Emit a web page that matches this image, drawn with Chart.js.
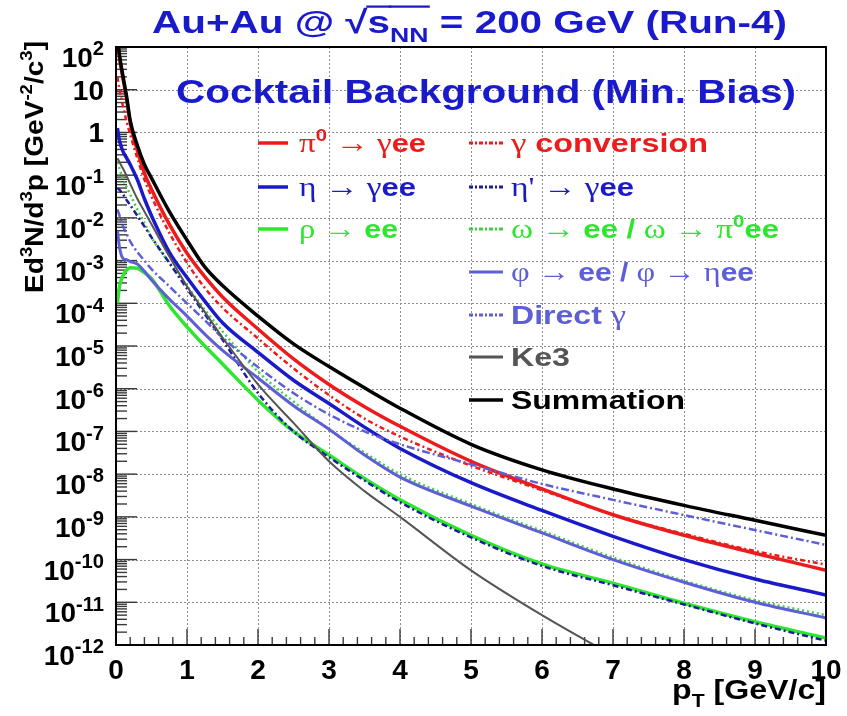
<!DOCTYPE html>
<html><head><meta charset="utf-8">
<script src="https://cdn.jsdelivr.net/npm/chart.js@4.4.1/dist/chart.umd.min.js"></script>
<style>html,body{margin:0;padding:0;background:#fff;}#wrap{width:847px;height:716px;}</style>
</head><body><div id="wrap"><canvas id="c" width="847" height="716"></canvas></div>
<script>
// ---------------- data ----------------
const PT = [0.02,0.05,0.1,0.15,0.2,0.3,0.4,0.5,0.75,1,1.25,1.5,2,2.5,3,3.5,4,5,6,7,8,9,10];
const PI0_GEE      = [158,56,17.8,6.0,1.66,0.38,0.112,0.0468,7.1e-3,1.48e-3,4.2e-4,1.41e-4,2.5e-5,5.0e-6,1.26e-6,3.8e-7,1.32e-7,2.0e-8,4.5e-9,1.12e-9,3.7e-10,1.41e-10,5.6e-11];
const ETA_GEE      = [1.26,0.63,0.355,0.25,0.178,0.079,0.028,0.0112,1.58e-3,4.0e-4,1.12e-4,3.5e-5,7.1e-6,1.58e-6,4.5e-7,1.26e-7,4.0e-8,6.3e-9,1.41e-9,3.5e-10,1.0e-10,3.5e-11,1.48e-11];
const RHO_EE       = [1.0e-4,2.5e-4,4.5e-4,6.0e-4,6.8e-4,6.6e-4,5.2e-4,3.8e-4,8.9e-5,2.8e-5,1.0e-5,3.8e-6,5.4e-7,1.0e-7,2.8e-8,7.9e-9,2.5e-9,3.7e-10,7.9e-11,2.8e-11,9.5e-12,3.5e-12,1.45e-12];
const GAMMA_CONV   = [20,10,4.0,1.78,0.89,0.25,0.079,0.0316,4.5e-3,8.9e-4,2.3e-4,7.9e-5,1.5e-5,3.0e-6,7.1e-7,2.0e-7,7.6e-8,1.58e-8,4.2e-9,1.12e-9,4.0e-10,1.58e-10,7.6e-11];
const ETAP_GEE     = [0.05,0.045,0.0355,0.026,0.02,0.0112,6.3e-3,3.5e-3,8.9e-4,2.2e-4,5.6e-5,1.41e-5,7.9e-7,1.0e-7,2.5e-8,7.1e-9,2.2e-9,3.3e-10,7.1e-11,2.5e-11,8.9e-12,3.2e-12,1.26e-12];
const OMEGA_EE     = [0.2,0.141,0.079,0.052,0.0355,0.0158,7.6e-3,3.5e-3,8.9e-4,2.5e-4,7.1e-5,2.2e-5,2.5e-6,5.0e-7,1.12e-7,3.2e-8,1.0e-8,2.0e-9,4.7e-10,1.12e-10,3.2e-11,1.12e-11,5.0e-12];
const PHI_EE       = [5.0e-3,2.0e-3,1.12e-3,1.05e-3,9.5e-4,8.3e-4,5.6e-4,3.5e-4,1.26e-4,5.0e-5,1.9e-5,7.9e-6,1.78e-6,4.0e-7,1.12e-7,2.8e-8,8.5e-9,1.78e-9,4.2e-10,1.0e-10,2.95e-11,1.0e-11,4.3e-12];
const DIRECT_GAMMA = [0.0158,0.0112,6.3e-3,4.2e-3,2.8e-3,1.58e-3,1.0e-3,6.3e-4,2.5e-4,1.0e-4,4.0e-5,1.58e-5,3.2e-6,7.9e-7,2.5e-7,1.0e-7,5.0e-8,1.7e-8,5.9e-9,2.5e-9,1.1e-9,4.9e-10,2.2e-10];
const KE3          = [0.25,0.2,0.141,0.095,0.063,0.028,0.0141,7.1e-3,1.26e-3,2.5e-4,6.3e-5,1.58e-5,1.26e-6,1.58e-7,2.0e-8,4.0e-9,1.0e-9,5.6e-11,5.0e-12,5.6e-13,null,null,null];
const SUMMATION    = [178,63,20,6.8,1.9,0.5,0.178,0.085,0.0141,3.0e-3,7.1e-4,2.6e-4,5.0e-5,1.12e-5,3.3e-6,1.05e-6,3.5e-7,5.0e-8,1.26e-8,4.5e-9,1.86e-9,8.3e-10,3.7e-10];

const X_TICKS = [0,1,2,3,4,5,6,7,8,9,10];
const X_TICK_LABELS = ['0','1','2','3','4','5','6','7','8','9','10'];
const Y_TICK_VALUES = [1e2,1e1,1,1e-1,1e-2,1e-3,1e-4,1e-5,1e-6,1e-7,1e-8,1e-9,1e-10,1e-11,1e-12];
const Y_TICK_BASES  = ['10','10','1','10','10','10','10','10','10','10','10','10','10','10','10'];
const Y_TICK_EXPS   = ['2','','','-1','-2','-3','-4','-5','-6','-7','-8','-9','-10','-11','-12'];

const SUBTITLE = 'Cocktail Background (Min. Bias)';

// ---------------- styles ----------------
const RED='#ec1c1c', BLUE='#1a1ac8', GREEN='#2ee62e', SLATE='#5e5ed6', DARKBLUE='#1c1c9c', OMEGAGREEN='#3fcf3f', GREY='#555555';
const SANS='"Liberation Sans", Arial, Helvetica, sans-serif';
const SERIF='"Liberation Serif", "Times New Roman", serif';

function series(label, arr, color, width, dash, order){
  return {label, data: PT.map((x,i)=>({x, y: arr[i]})), borderColor: color, borderWidth: width,
    borderDash: dash || [], pointRadius: 0, fill: false, cubicInterpolationMode: 'monotone', spanGaps: false, order};
}
const datasets = [
  series('π0 → γee', PI0_GEE, RED, 3.5, null, 5),
  series('γ conversion', GAMMA_CONV, RED, 2.5, [5,3,2,3], 6),
  series('η → γee', ETA_GEE, BLUE, 3.5, null, 7),
  series("η' → γee", ETAP_GEE, DARKBLUE, 2.5, [6,3,2,3], 8),
  series('ρ → ee', RHO_EE, GREEN, 3.5, null, 9),
  series('ω → ee / ω → π0ee', OMEGA_EE, OMEGAGREEN, 2.5, [2,3], 10),
  series('φ → ee / φ → ηee', PHI_EE, SLATE, 3, null, 4),
  series('Direct γ', DIRECT_GAMMA, SLATE, 2.5, [8,3,2,3], 3),
  series('Ke3', KE3, GREY, 2, null, 2),
  series('Summation', SUMMATION, '#000000', 3.5, null, 1)
];

// legend rich-text (g = greek serif, b = bold sans)
const LEGEND = [
  {ds:0, col:0, row:0, color:RED,   segs:[['π','g'],['0','b','sup'],[' → ','g'],['γ','g'],['ee','b']]},
  {ds:2, col:0, row:1, color:BLUE,  segs:[['η','g'],[' → ','g'],['γ','g'],['ee','b']]},
  {ds:4, col:0, row:2, color:GREEN, segs:[['ρ','g'],[' → ','g'],['ee','b']]},
  {ds:1, col:1, row:0, color:RED,   segs:[['γ ','g'],['conversion','b']]},
  {ds:3, col:1, row:1, color:BLUE,  segs:[["η'",'g'],[' → ','g'],['γ','g'],['ee','b']]},
  {ds:5, col:1, row:2, color:GREEN, segs:[['ω','g'],[' → ','g'],['ee / ','b'],['ω','g'],[' → ','g'],['π','g'],['0','b','sup'],['ee','b']]},
  {ds:6, col:1, row:3, color:SLATE, segs:[['φ','g'],[' → ','g'],['ee / ','b'],['φ','g'],[' → ','g'],['η','g'],['ee','b']]},
  {ds:7, col:1, row:4, color:SLATE, segs:[['Direct ','b'],['γ','g']]},
  {ds:8, col:1, row:5, color:GREY,  segs:[['Ke3','b']]},
  {ds:9, col:1, row:6, color:'#000',segs:[['Summation','b']]}
];

function fontFor(kind, size, small, ratio){
  const sz = small ? size*(ratio||0.66) : size;
  return kind==='g' ? `${sz*1.08}px ${SERIF}` : `bold ${sz}px ${SANS}`;
}
function drawRich(ctx, segs, x, y, size, color, opt){
  opt = opt || {};
  let w = 0;
  const m = segs.map(s=>{ ctx.font = fontFor(s[1], size, s[2]==='sup'||s[2]==='sub', opt.ratio); const ww = ctx.measureText(s[0]).width; w += ww; return ww; });
  const sx = opt.width ? opt.width / w : 1;
  ctx.save();
  ctx.translate(x, y);
  if (opt.rotate) ctx.rotate(opt.rotate);
  ctx.scale(sx, 1);
  let cx = opt.align==='right' ? -w : (opt.align==='center' ? -w/2 : 0);
  ctx.fillStyle = color; ctx.strokeStyle = color; ctx.textBaseline = 'alphabetic'; ctx.textAlign = 'left';
  segs.forEach((s,i)=>{
    ctx.font = fontFor(s[1], size, s[2]==='sup'||s[2]==='sub', opt.ratio);
    const dy = s[2]==='sup' ? -size*0.42 : (s[2]==='sub' ? size*0.28 : 0);
    ctx.fillText(s[0], cx, dy);
    if (s[3]==='bar') ctx.fillRect(cx-1, -size*0.86, m[i]+2, Math.max(2, size*0.07));
    cx += m[i];
  });
  ctx.restore();
}

const decor = {
  id: 'decor',
  beforeDatasetsDraw(chart){
    const {ctx, chartArea:a, scales:{x, y}} = chart;
    ctx.save();
    ctx.strokeStyle = '#8c8c8c'; ctx.lineWidth = 1; ctx.setLineDash([2,2]);
    X_TICKS.forEach(v=>{ const p = Math.round(x.getPixelForValue(v))+0.5; if (p<=a.left+1||p>=a.right-1) return; ctx.beginPath(); ctx.moveTo(p,a.top); ctx.lineTo(p,a.bottom); ctx.stroke(); });
    Y_TICK_VALUES.forEach(v=>{ const p = Math.round(y.getPixelForValue(v))+0.5; if (p<=a.top+1||p>=a.bottom-1) return; ctx.beginPath(); ctx.moveTo(a.left,p); ctx.lineTo(a.right,p); ctx.stroke(); });
    ctx.setLineDash([]);
    ctx.strokeStyle = '#3a3a3a'; ctx.lineWidth = 1.4;
    for (let d=-12; d<2; d++){
      for (let k=1; k<10; k++){
        const v = k*Math.pow(10,d); const p = y.getPixelForValue(v);
        const len = k===1 ? 21 : 11;
        ctx.beginPath(); ctx.moveTo(a.left,p); ctx.lineTo(a.left+len,p); ctx.stroke();
      }
    }
    for (let i=0;i<=50;i++){
      const p = x.getPixelForValue(i*0.2); const len = i%5===0 ? 16 : 8;
      ctx.beginPath(); ctx.moveTo(p,a.bottom); ctx.lineTo(p,a.bottom-len); ctx.stroke();
    }
    ctx.restore();
  },
  afterDatasetsDraw(chart){
    const {ctx, chartArea:a, scales:{x, y}} = chart;
    ctx.save();
    ctx.strokeStyle = '#000'; ctx.lineWidth = 2;
    ctx.strokeRect(a.left, a.top, a.right-a.left, a.bottom-a.top);
    // y tick labels
    Y_TICK_VALUES.forEach((v,i)=>{
      const p = y.getPixelForValue(v);
      const base = Y_TICK_BASES[i], ex = Y_TICK_EXPS[i];
      if (ex) drawRich(ctx, [[base,'b'],[ex,'b','sup']], 104, p+20, 28, '#000', {align:'right', ratio:0.72});
      else drawRich(ctx, [[base,'b']], 104, p+10, 28, '#000', {align:'right'});
    });
    // x tick labels
    X_TICKS.forEach((v,i)=>{
      const p = x.getPixelForValue(v);
      drawRich(ctx, [[X_TICK_LABELS[i],'b']], p, 679, 28, '#000', {align:'center'});
    });
    // axis titles
    drawRich(ctx, [['p','b'],['T','b','sub'],[' [GeV/c]','b']], 672, 699, 28, '#000', {width:154});
    drawRich(ctx, [['Ed','b'],['3','b','sup'],['N/d','b'],['3','b','sup'],['p [GeV','b'],['-2','b','sup'],['/c','b'],['3','b','sup'],[']','b']],
      43, 293, 26, '#000', {rotate:-Math.PI/2, width:252});
    // titles
    drawRich(ctx, [['Au+Au @ ','b'],['√','n'],['s','b',null,'bar'],['NN','b','sub','bar'],[' = 200 GeV (Run-4)','b']], 152, 33, 32, '#1a1acd', {width:635});
    drawRich(ctx, [[SUBTITLE,'b']], 176, 103, 33, '#1a1acd', {width:620});
    // legend
    const colX = [[258,288,299],[469,503,511]];
    const rowY = [143,187,229,272,315,357,400];
    const widths = {0:127,2:117,4:99,1:197,3:123,5:268,6:243,7:115,8:59,9:174};
    LEGEND.forEach(it=>{
      const ds = chart.data.datasets[it.ds];
      const [x0,x1,tx] = colX[it.col]; const yy = rowY[it.row];
      ctx.save(); ctx.strokeStyle = ds.borderColor; ctx.lineWidth = Math.max(3, ds.borderWidth);
      ctx.setLineDash(ds.borderDash && ds.borderDash.length ? [4,2,2,2] : []);
      ctx.beginPath(); ctx.moveTo(x0,yy); ctx.lineTo(x1,yy); ctx.stroke(); ctx.restore();
      drawRich(ctx, it.segs, tx, yy+9, 26, it.color, {width: widths[it.ds]});
    });
    ctx.restore();
  }
};

new Chart(document.getElementById('c'), {
  type: 'line',
  data: { datasets },
  options: {
    responsive: false, animation: false, events: [],
    layout: { padding: { left: 116, right: 21, top: 47, bottom: 71 } },
    plugins: { legend: {display:false}, tooltip: {enabled:false}, title:{display:false} },
    scales: {
      x: { type:'linear', min:0, max:10, display:false },
      y: { type:'logarithmic', min:1e-12, max:1e2, display:false }
    }
  },
  plugins: [decor]
});
</script></body></html>
